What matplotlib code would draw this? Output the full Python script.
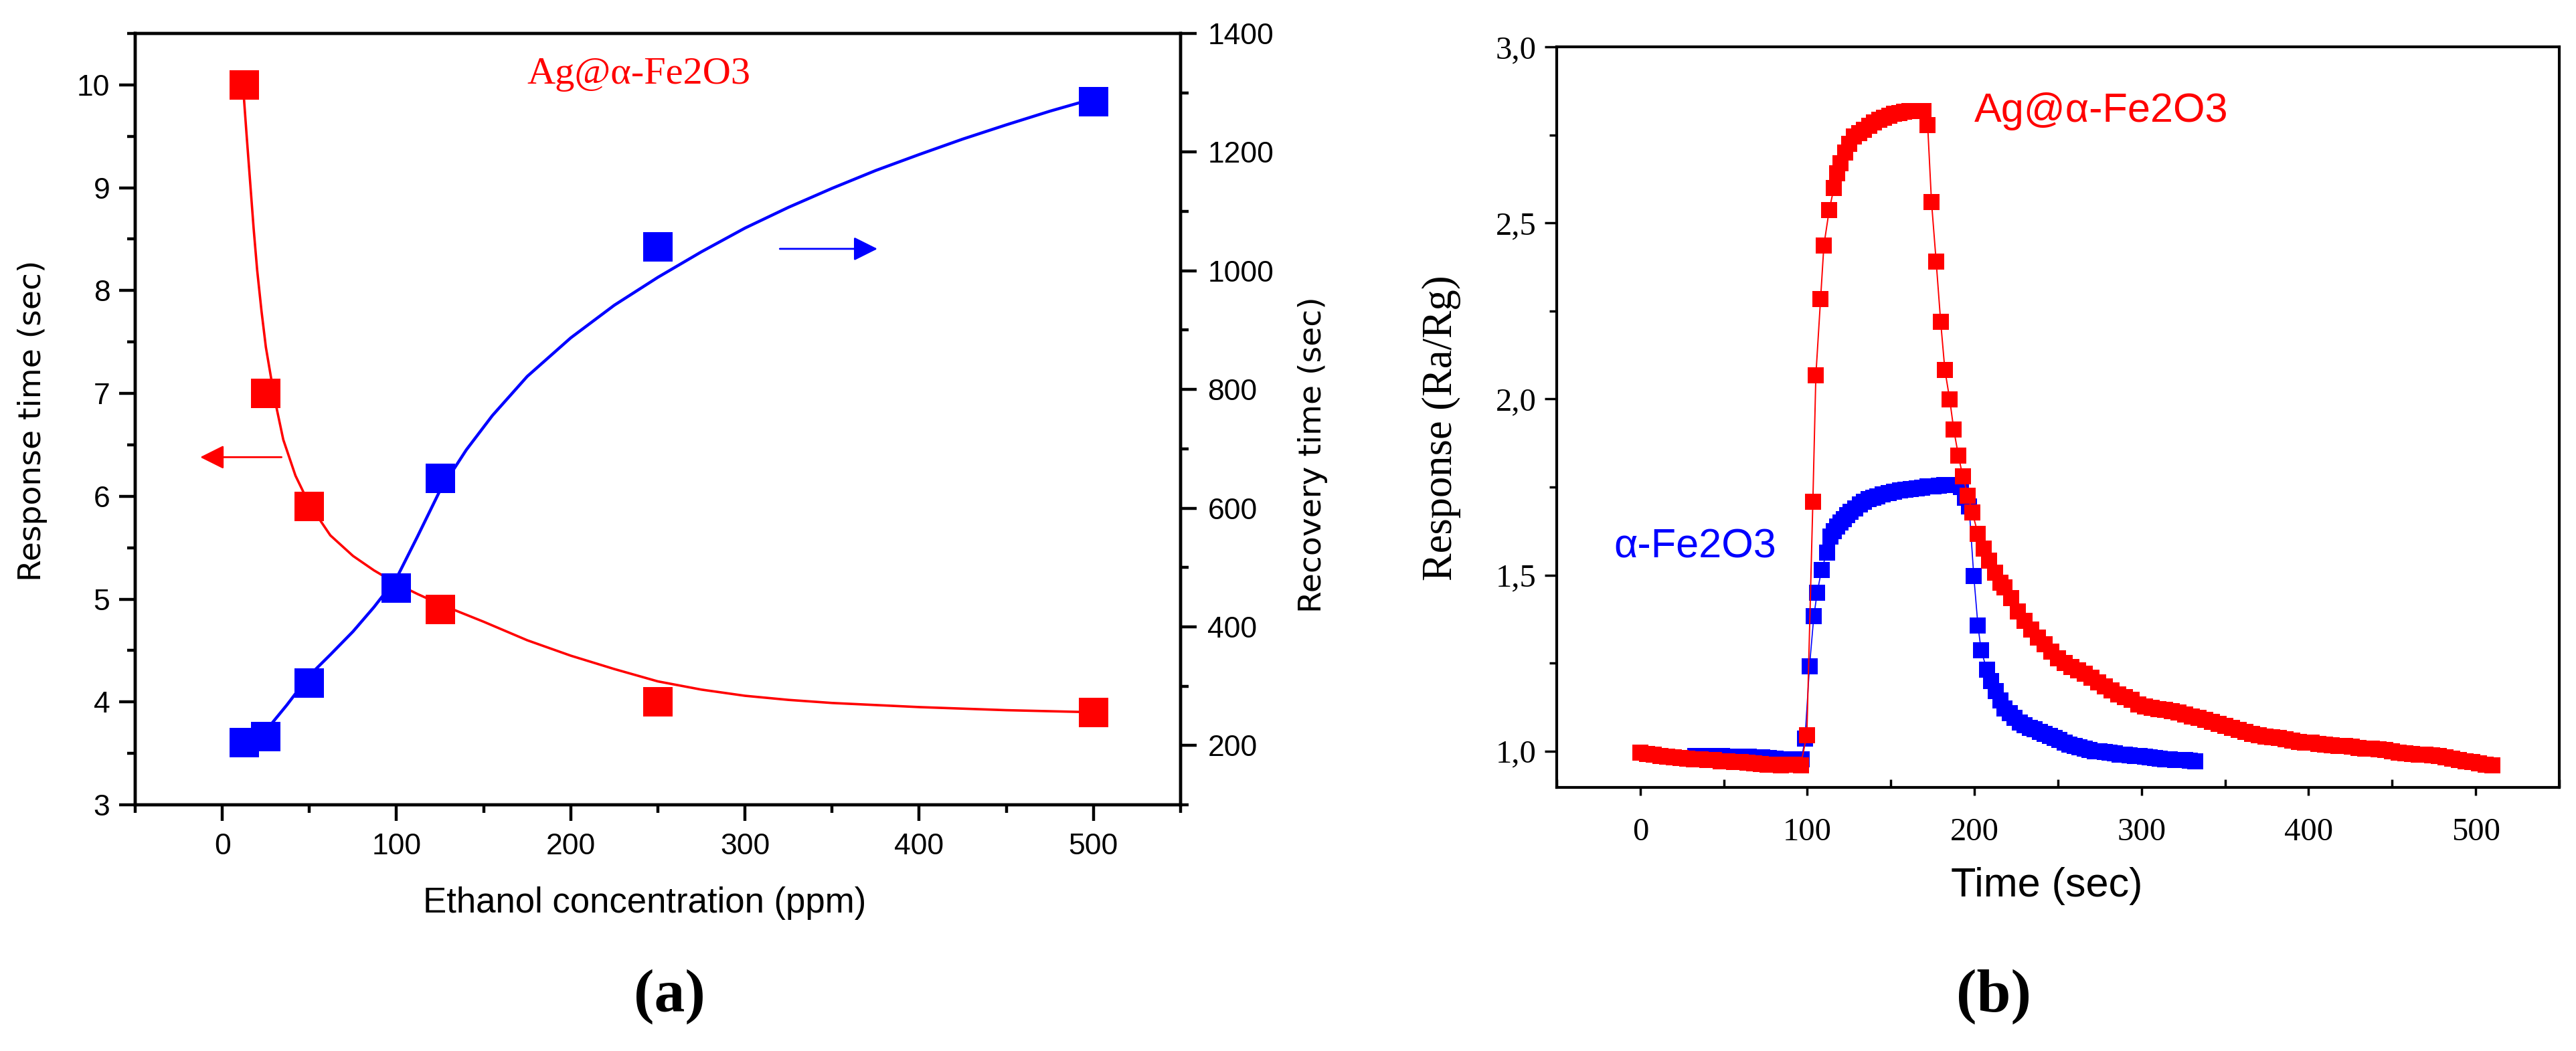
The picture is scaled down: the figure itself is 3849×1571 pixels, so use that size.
import matplotlib
matplotlib.use('Agg')
import matplotlib.pyplot as plt
from matplotlib.ticker import MultipleLocator, FuncFormatter

# (a) response / recovery time vs ethanol concentration
conc_resp = [12.5, 25, 50, 125, 250, 500]
resp_time = [10.0, 7.0, 5.9, 4.9, 4.0, 3.9]
conc_rec = [12.5, 25, 50, 100, 125, 250, 500]
rec_time = [205, 215, 305, 465, 650, 1040, 1285]

fit_resp_x = [12.5, 14, 16, 18, 20, 22.5, 25, 27.5, 30, 35, 42, 50, 62, 75, 87, 100, 112, 125, 150,
              175, 200, 225, 250, 275, 300, 325, 350, 400, 450, 500]
fit_resp_y = [9.85, 9.5, 9.05, 8.6, 8.2, 7.8, 7.45, 7.2, 6.95, 6.55, 6.2, 5.92, 5.62, 5.42, 5.28, 5.15,
              5.05, 4.95, 4.78, 4.6, 4.45, 4.32, 4.2, 4.12, 4.06, 4.02, 3.99, 3.95, 3.92, 3.9]
fit_rec_x = [12.5, 25, 37, 50, 62, 75, 87, 100, 112, 125, 140, 155, 175, 200, 225, 250, 275, 300, 325,
             350, 375, 400, 425, 450, 475, 500]
fit_rec_y = [205, 225, 268, 318, 353, 392, 433, 482, 552, 630, 698, 756, 822, 887, 942, 989, 1032, 1072,
             1107, 1139, 1169, 1196, 1222, 1246, 1269, 1290]

# (b) dynamic response curves
t_ag = [0, 4, 8, 12, 16, 20, 24, 28, 32, 36, 40, 44, 48, 52, 56, 60, 64, 68, 72, 76, 80, 84, 88, 92, 96,
        99.7, 103.3, 105.1, 107.9, 109.9, 113.1, 115.9, 118, 120, 122.5, 125, 128, 131, 134, 137, 140, 143,
        146, 149, 152, 155, 158, 161, 164, 167, 169.5, 172, 174.3, 177.1, 179.8, 182.3, 185.2, 187.6, 190.4,
        193.0, 196.1, 198.8, 202.1, 205.5, 208.8, 212.2, 215.5,
        218, 222, 226, 230, 234, 238, 242, 246, 250, 254, 258, 262, 266, 270, 274, 278, 282, 286, 290, 294,
        298, 302, 306, 310, 314, 318, 322, 326, 330, 334, 338, 342, 346, 350, 354, 358, 362, 366, 370, 374,
        378, 382, 386, 390, 394, 398, 402, 406, 410, 414, 418, 422, 426, 430, 434, 438, 442, 446, 450, 454,
        458, 462, 466, 470, 474, 478, 482, 486, 490, 494, 498, 502, 506, 510]
r_ag = [0.995, 0.992, 0.990, 0.987, 0.985, 0.982, 0.980, 0.978, 0.977, 0.976, 0.975, 0.974, 0.972, 0.971,
        0.970, 0.969, 0.968, 0.966, 0.963, 0.962, 0.961, 0.960, 0.961, 0.961, 0.960,
        1.046, 1.708, 2.067, 2.283, 2.436, 2.537, 2.599, 2.64, 2.67, 2.70, 2.725, 2.745, 2.755, 2.765, 2.775,
        2.785, 2.792, 2.798, 2.805, 2.81, 2.812, 2.815, 2.817, 2.818, 2.818, 2.818, 2.778, 2.56, 2.39, 2.219,
        2.083, 1.999, 1.914, 1.839, 1.781, 1.726, 1.677, 1.617, 1.576, 1.541, 1.506, 1.478,
        1.465, 1.434, 1.396, 1.370, 1.345, 1.323, 1.304, 1.283, 1.264, 1.250, 1.239, 1.229, 1.219, 1.208,
        1.196, 1.184, 1.172, 1.161, 1.154, 1.146, 1.133, 1.127, 1.123, 1.120, 1.117, 1.113, 1.110, 1.104,
        1.098, 1.094, 1.089, 1.084, 1.078, 1.072, 1.066, 1.060, 1.054, 1.049, 1.045, 1.042, 1.039, 1.037,
        1.033, 1.030, 1.027, 1.025, 1.024, 1.021, 1.019, 1.017, 1.015, 1.014, 1.012, 1.010, 1.008, 1.007,
        1.005, 1.004, 1.000, 0.996, 0.994, 0.992, 0.991, 0.990, 0.988, 0.986, 0.983, 0.979, 0.975, 0.972,
        0.969, 0.966, 0.962, 0.959]

t_fe = [33, 37, 41, 45, 49, 53, 57, 61, 65, 69, 73, 77, 81, 85, 89, 93, 96.5,
        98.6, 101.3, 103.9, 105.9, 108.5, 111.7, 114, 116, 118, 120, 122, 124, 126, 128.7, 131.4, 134, 136.7,
        139.4, 142, 145, 148.7, 152, 155.4, 158.7, 162, 165.4, 168.7, 172, 175.4, 178.7, 182.1, 185.4, 188.8,
        192, 194.5, 196.8, 199.6, 202.1, 204.0, 207.4, 210.1, 212.8, 215.5,
        218, 221, 224, 227, 230, 233, 236, 239, 242, 245, 248, 251, 254, 257, 260, 263, 266, 269, 272, 275,
        278, 281, 284, 287, 290, 293, 296, 299, 302, 305, 308, 311, 314, 317, 320, 323, 326, 329, 332]
r_fe = [0.987, 0.986, 0.986, 0.986, 0.986, 0.985, 0.984, 0.984, 0.984, 0.983, 0.983, 0.980, 0.978, 0.977,
        0.977, 0.977, 0.977,
        1.035, 1.241, 1.384, 1.450, 1.515, 1.564, 1.610, 1.625, 1.638, 1.649, 1.659, 1.670, 1.680, 1.690,
        1.701, 1.708, 1.715, 1.720, 1.724, 1.729, 1.733, 1.737, 1.740, 1.743, 1.745, 1.747, 1.749, 1.751,
        1.752, 1.754, 1.755, 1.755, 1.755, 1.75, 1.72, 1.694, 1.498, 1.357, 1.286, 1.232, 1.199, 1.171, 1.144,
        1.122, 1.108, 1.094, 1.082, 1.073, 1.066, 1.062, 1.055, 1.049, 1.043, 1.038, 1.031, 1.024, 1.018,
        1.014, 1.011, 1.007, 1.004, 1.000, 0.999, 0.998, 0.996, 0.993, 0.991, 0.990, 0.989, 0.987, 0.986,
        0.984, 0.982, 0.980, 0.978, 0.977, 0.976, 0.975, 0.975, 0.974, 0.973, 0.972]

RED = '#ff0000'
BLUE = '#0000ff'
SANS = ['Liberation Sans', 'DejaVu Sans']
SERIF = ['Liberation Serif', 'DejaVu Serif']

fig = plt.figure(figsize=(38.49, 15.71), dpi=100)

# ---------- panel (a) ----------
ax = fig.add_axes([0.05248, 0.23425, 0.40582, 0.73393])
ax.plot(fit_resp_x, fit_resp_y, color=RED, lw=2.6, zorder=2)
ax.plot(conc_resp, resp_time, 's', color=RED, ms=32, mew=0, zorder=3)
ax.set_xlim(-50, 550)
ax.set_ylim(3, 10.5)
ax.xaxis.set_major_locator(MultipleLocator(100))
ax.xaxis.set_minor_locator(MultipleLocator(50))
ax.yaxis.set_major_locator(MultipleLocator(1))
ax.yaxis.set_minor_locator(MultipleLocator(0.5))
ax.tick_params(axis='both', which='both', direction='out', width=3.2, top=False, right=False)
ax.tick_params(which='major', length=17)
ax.tick_params(which='minor', length=8.5)
ax.tick_params(axis='x', which='major', pad=13)
ax.tick_params(axis='y', which='major', pad=10)
for lab in ax.get_xticklabels() + ax.get_yticklabels():
    lab.set_fontfamily(SANS)
    lab.set_fontsize(32)
for s in ax.spines.values():
    s.set_linewidth(3.2)

ax2 = ax.twinx()
ax2.plot(fit_rec_x, fit_rec_y, color=BLUE, lw=3.2, zorder=2)
ax2.plot(conc_rec, rec_time, 's', color=BLUE, ms=32, mew=0, zorder=3)
ax2.set_ylim(100, 1400)
ax2.yaxis.set_major_locator(MultipleLocator(200))
ax2.yaxis.set_minor_locator(MultipleLocator(100))
ax2.tick_params(axis='y', which='both', direction='out', width=3.2)
ax2.tick_params(which='major', length=17, pad=12)
ax2.tick_params(which='minor', length=8.5)
for lab in ax2.get_yticklabels():
    lab.set_fontfamily(SANS)
    lab.set_fontsize(32)
for s in ax2.spines.values():
    s.set_linewidth(3.2)

# direction arrows
ax.annotate('', xy=(-12.7, 6.38), xytext=(34, 6.38),
            arrowprops=dict(arrowstyle='-|>', color=RED, lw=2.0, mutation_scale=55,
                            shrinkA=0, shrinkB=0))
ax2.annotate('', xy=(376, 1037), xytext=(320, 1037),
             arrowprops=dict(arrowstyle='-|>', color=BLUE, lw=2.0, mutation_scale=55,
                             shrinkA=0, shrinkB=0))
ax.text(175, 10.1, 'Ag@α-Fe2O3', color=RED, fontsize=42, family=SERIF, ha='left', va='center')

fig.text(0.01273, 0.5996, 'Response time (sec)', rotation=90, fontsize=34,
         family='DejaVu Sans', ha='center', va='center')
fig.text(0.5095, 0.5672, 'Recovery time (sec)', rotation=90, fontsize=34,
         family='DejaVu Sans', ha='center', va='center')
fig.text(0.2502, 0.1407, 'Ethanol concentration (ppm)', fontsize=38, family=SANS,
         ha='center', va='center')
fig.text(0.2598, 0.0516, '(a)', fontsize=66, family=SERIF, fontweight='bold',
         ha='center', va='center')

# ---------- panel (b) ----------
bx = fig.add_axes([0.60431, 0.25080, 0.38919, 0.70465])
bx.plot(t_fe, r_fe, '-s', color=BLUE, lw=1.2, ms=17, mew=0, zorder=2)
bx.plot(t_ag, r_ag, '-s', color=RED, lw=1.4, ms=17, mew=0, zorder=3)
bx.set_xlim(-50, 550)
bx.set_ylim(0.897, 3.0)
bx.xaxis.set_major_locator(MultipleLocator(100))
bx.xaxis.set_minor_locator(MultipleLocator(50))
bx.yaxis.set_major_locator(MultipleLocator(0.5))
bx.yaxis.set_minor_locator(MultipleLocator(0.25))
bx.yaxis.set_major_formatter(FuncFormatter(lambda v, p: f'{v:.1f}'.replace('.', ',')))
bx.tick_params(axis='both', which='both', width=2.5, top=False, right=False)
bx.tick_params(axis='x', which='major', direction='out', length=8.6, pad=24)
bx.tick_params(axis='x', which='minor', direction='in', length=8.6)
bx.tick_params(axis='y', which='major', direction='out', length=13, pad=9)
bx.tick_params(axis='y', which='minor', direction='out', length=8)
for lab in bx.get_xticklabels() + bx.get_yticklabels():
    lab.set_fontfamily(SERIF)
    lab.set_fontsize(35)
for s in bx.spines.values():
    s.set_linewidth(3.0)

bx.text(200, 2.816, 'Ag@α-Fe2O3', color=RED, fontsize=44, family=SANS, ha='left', va='center')
bx.text(-16, 1.579, 'α-Fe2O3', color=BLUE, fontsize=44, family=SANS, ha='left', va='center')

fig.text(0.5596, 0.5926, 'Response (Ra/Rg)', rotation=90, fontsize=45, family=SERIF,
         ha='center', va='center')
fig.text(0.7945, 0.1566, 'Time (sec)', fontsize=44, family=SANS, ha='center', va='center')
fig.text(0.774, 0.0516, '(b)', fontsize=66, family=SERIF, fontweight='bold',
         ha='center', va='center')

fig.savefig('out.png', dpi=100)
